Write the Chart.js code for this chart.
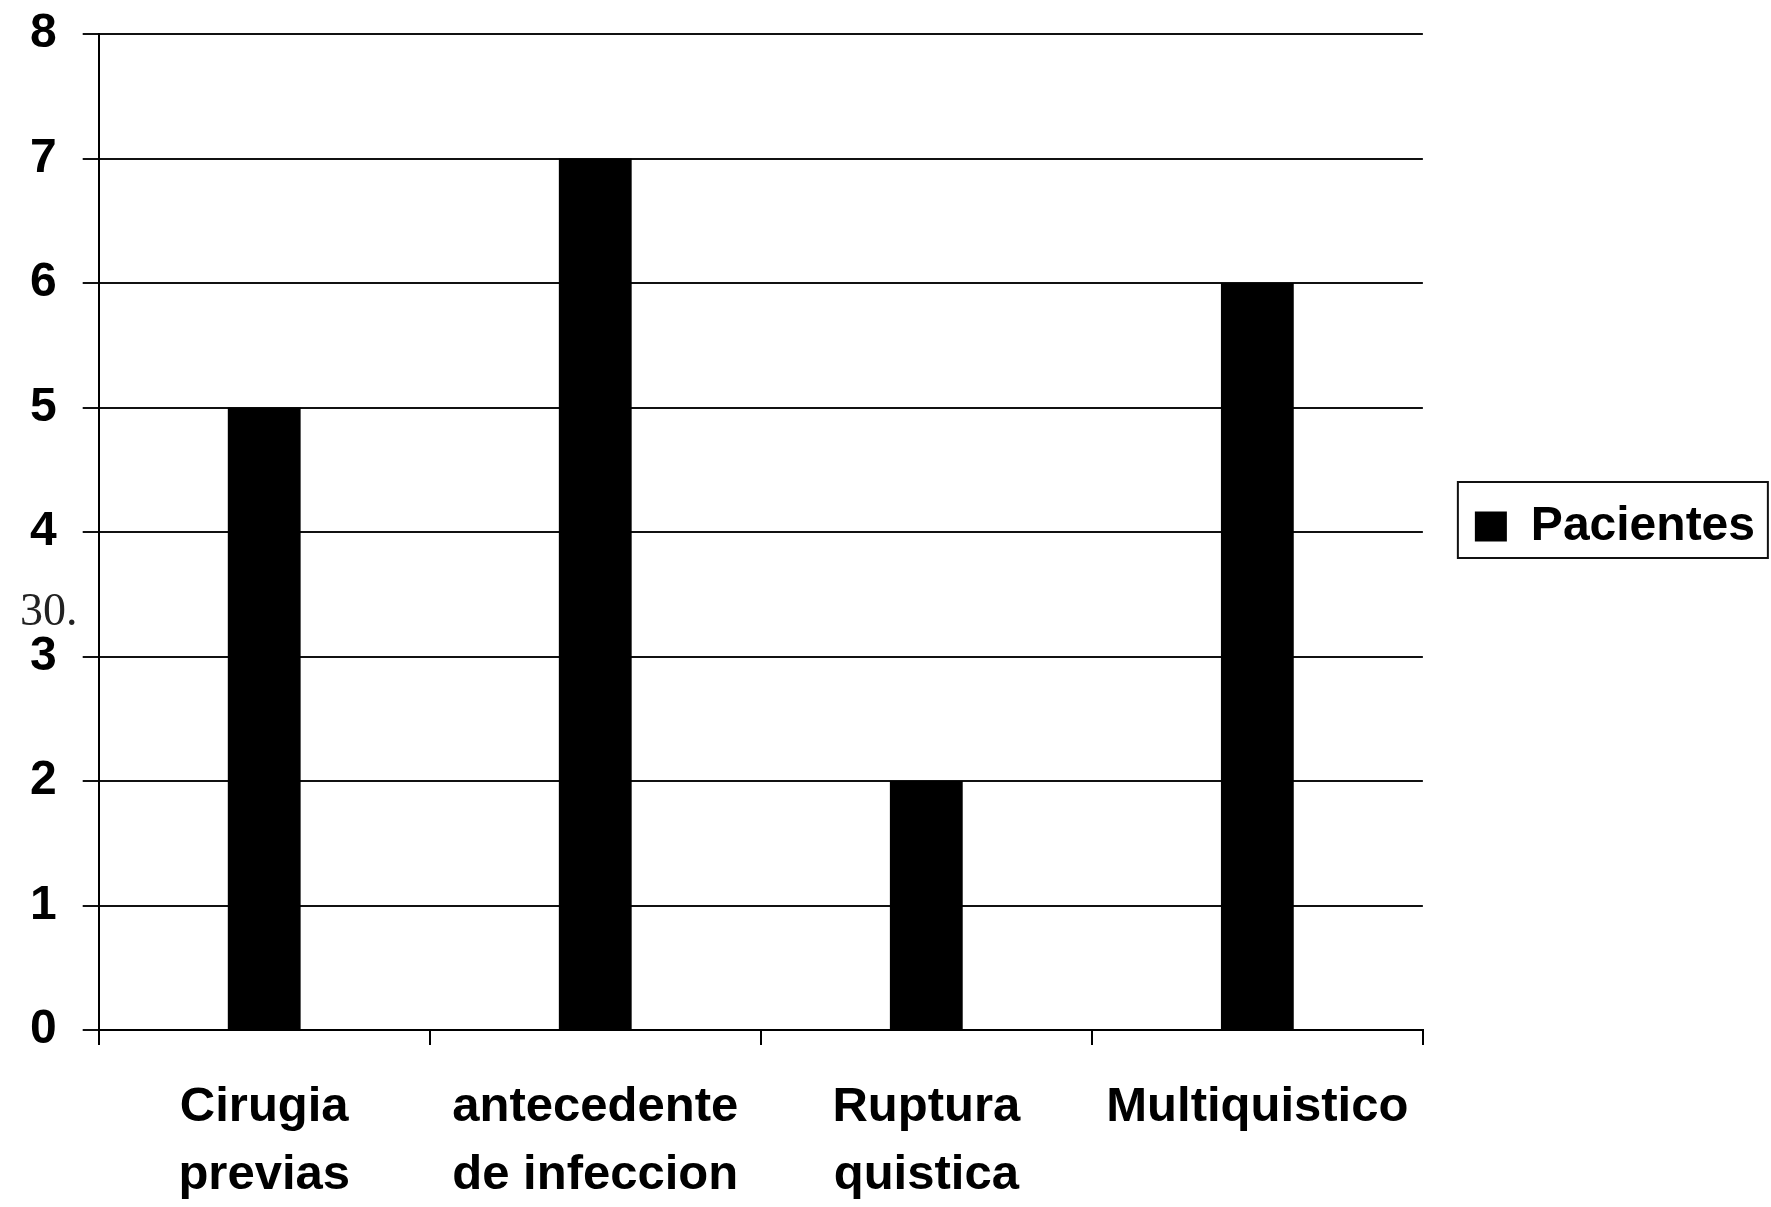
<!DOCTYPE html>
<html>
<head>
<meta charset="utf-8">
<script src="https://cdn.jsdelivr.net/npm/chart.js@4.4.1/dist/chart.umd.min.js"></script>
<style>
  html, body { margin: 0; padding: 0; background: #fff; }
  #wrap { width: 1771px; height: 1207px; }
</style>
</head>
<body>
<div id="wrap"><canvas id="grafico" width="1771" height="1207"></canvas></div>
<script>
// datos del grafico
const categorias = [
    ["Cirugia", "previas"],
    ["antecedente", "de infeccion"],
    ["Ruptura", "quistica"],
    ["Multiquistico"]
];
const pacientes = [5, 7, 2, 6];
const serieNombre = "Pacientes";
const marcaSuelta = "30.";

const negro = "#000";

// mueve la leyenda y le pone un marco, y dibuja el "30." suelto de la hoja
const extras = {
    id: "extras",
    afterLayout(chart) {
        const lg = chart.legend;
        lg.left += 18; lg.right += 18;
        lg.top -= 94; lg.bottom -= 94;
    },
    afterDraw(chart) {
        const ctx = chart.ctx;
        const lg = chart.legend;
        const x0 = lg.left + lg.options.labels.padding;
        const hb = lg.legendHitBoxes[0];
        ctx.save();
        ctx.strokeStyle = "#111";
        ctx.lineWidth = 2;
        ctx.strokeRect(x0 - 17, 482, 310, 76);
        ctx.fillStyle = "#222";
        ctx.font = "46px 'Liberation Serif'";
        ctx.textBaseline = "alphabetic";
        ctx.fillText(marcaSuelta, 20, 625);
        ctx.restore();
    }
};

const ctx = document.getElementById("grafico").getContext("2d");
const grafico = new Chart(ctx, {
    type: "bar",
    data: {
        labels: categorias,
        datasets: [{
            label: serieNombre,
            data: pacientes,
            backgroundColor: negro,
            borderWidth: 0,
            categoryPercentage: 1,
            barPercentage: 0.22
        }]
    },
    options: {
        responsive: false,
        animation: false,
        layout: { padding: { left: 4, top: 34, right: 24, bottom: 0 } },
        plugins: {
            tooltip: { enabled: false },
            legend: {
                position: "right",
                labels: {
                    color: negro,
                    font: { family: "'Liberation Sans', Arial", size: 48, weight: "bold" },
                    boxWidth: 32,
                    boxHeight: 30,
                    padding: 34
                }
            }
        },
        scales: {
            x: {
                offset: true,
                afterFit(scale) { scale.height = 177; },
                grid: {
                    offset: true,
                    drawOnChartArea: false,
                    drawTicks: true,
                    tickLength: 15,
                    color: negro,
                    lineWidth: 2
                },
                border: { display: true, color: negro, width: 2 },
                ticks: {
                    color: negro,
                    padding: 28,
                    maxRotation: 0,
                    autoSkip: false,
                    font: { family: "'Liberation Sans', Arial", size: 49, weight: "bold", lineHeight: 1.39 }
                }
            },
            y: {
                min: 0,
                max: 8,
                afterFit(scale) { scale.paddingTop = 20; },
                ticks: {
                    stepSize: 1,
                    color: negro,
                    padding: 26,
                    font: { family: "'Liberation Sans', Arial", size: 48, weight: "bold" }
                },
                grid: {
                    color: "#111",
                    lineWidth: 2,
                    tickLength: 16
                },
                border: { display: true, color: negro, width: 2 }
            }
        }
    },
    plugins: [extras]
});
</script>
</body>
</html>
